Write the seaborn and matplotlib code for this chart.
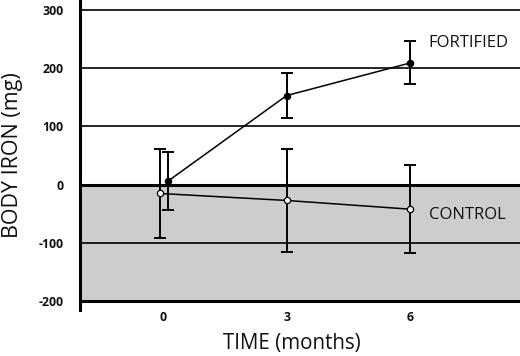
import matplotlib
matplotlib.use("Agg")
import matplotlib.pyplot as plt
import seaborn as sns
import pandas as pd
import numpy as np

months = [0, 3, 6]
fortified_mean = [6, 153, 209]
fortified_err = [50, 39, 37]
control_mean = [-15, -27, -42]
control_err = [76, 88, 75]
x_offset = {"FORTIFIED": [0.12, 0, 0], "CONTROL": [-0.08, 0, 0]}
y_ticks = [-200, -100, 0, 100, 200, 300]
x_ticks = [0, 3, 6]

sns.set_style("white")
plt.rcParams['font.family'] = ['Open Sans', 'DejaVu Sans']

df = pd.DataFrame({
    "month": np.array(months + months, dtype=float) + np.array(x_offset["FORTIFIED"] + x_offset["CONTROL"]),
    "iron": fortified_mean + control_mean,
    "err": fortified_err + control_err,
    "group": ["FORTIFIED"] * 3 + ["CONTROL"] * 3,
})

fig = plt.figure(figsize=(5.2, 3.56), dpi=100)
ax = fig.add_axes([80 / 520, 46 / 356, 440 / 520, 310 / 356])

ax.set_xlim(-2.01, 8.66)
ax.set_ylim(-215, 317)

ax.axhspan(-200, 0, color="#cdcdcd", zorder=0, lw=0)
for v in [300, 200, 100, -100]:
    ax.axhline(v, color="black", lw=1.2, zorder=1)
for v in [0, -200]:
    ax.axhline(v, color="black", lw=2.2, zorder=1)

for grp, face in [("FORTIFIED", "black"), ("CONTROL", "white")]:
    d = df[df.group == grp]
    ax.errorbar(d.month, d.iron, yerr=d.err, fmt="none", ecolor="black",
                elinewidth=1.4, capsize=4, capthick=1.4, zorder=2)
    sns.lineplot(data=d, x="month", y="iron", ax=ax, color="black", lw=1.1,
                 marker="o", markersize=4.5, markerfacecolor=face,
                 markeredgecolor="black", markeredgewidth=0.9, zorder=3,
                 estimator=None, sort=False)

ax.text(6.45, 244, "FORTIFIED", fontsize=12, va="center", ha="left", color="#111111")
ax.text(6.45, -52, "CONTROL", fontsize=12, va="center", ha="left", color="#111111")

for s in ["top", "right", "bottom"]:
    ax.spines[s].set_visible(False)
ax.spines["left"].set_linewidth(2.2)
ax.spines["left"].set_color("black")

ax.set_yticks(y_ticks)
ax.set_yticklabels([str(v) for v in y_ticks], fontsize=8.8, fontweight="bold")
ax.set_xticks(x_ticks)
ax.set_xticklabels([str(v) for v in x_ticks], fontsize=8.8, fontweight="bold")
ax.tick_params(axis="y", length=0, pad=12, colors="#111111")
ax.tick_params(axis="x", length=0, pad=1, colors="#111111")

ax.set_xlabel("TIME (months)", fontsize=14.8, color="#111111")
ax.xaxis.set_label_coords((292 - 80) / 440, -0.075, transform=ax.transAxes)
ax.set_ylabel("BODY IRON (mg)", fontsize=15.5, labelpad=11, color="#111111")

fig.savefig("out.png", dpi=100)
